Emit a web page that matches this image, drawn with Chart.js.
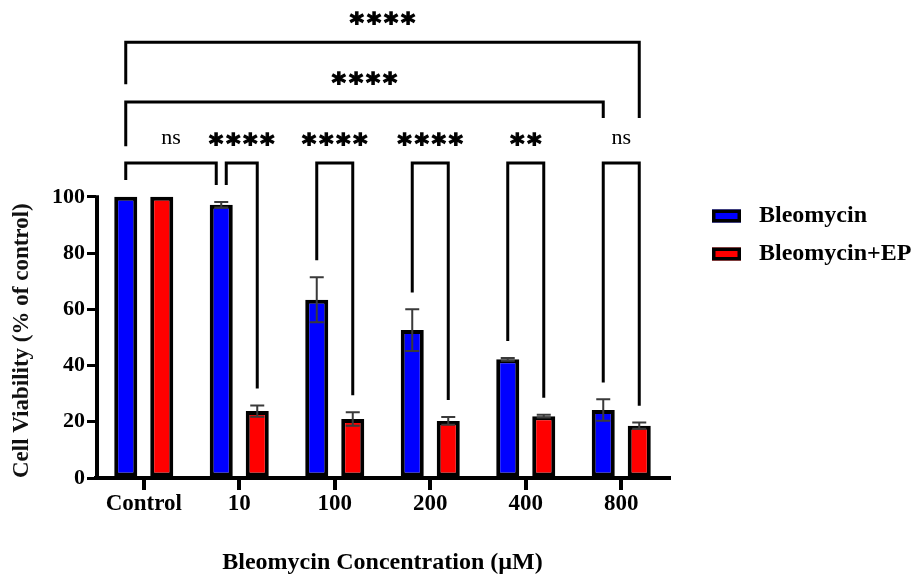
<!DOCTYPE html>
<html>
<head>
<meta charset="utf-8">
<script src="https://cdn.jsdelivr.net/npm/chart.js@4"></script>
<style>
  body { margin: 0; background: #fff; }
  #wrap { width: 914px; height: 577px; }
</style>
</head>
<body>
<div id="wrap"><canvas id="viabilityChart"></canvas></div>
<script>
// data
const categories = ['Control', '10', '100', '200', '400', '800'];
const seriesNames = ['Bleomycin', 'Bleomycin+EP'];
const bleomycin = [100, 97.2, 63.4, 52.6, 42.2, 24.2];
const bleomycinErr = [0, 1, 8, 7.4, 0.5, 3.8];
const bleomycinEP = [100, 23.8, 21, 20.3, 22, 18.6];
const bleomycinEPErr = [0, 2, 2.4, 1.4, 0.5, 1.1];
const yTicks = [0, 20, 40, 60, 80, 100];

// significance brackets: a / b = [category index, series index]
const comparisons = [
  { a: [0, 0], b: [1, 0], label: 'ns', level: 112, shift: [0, -5] },
  { a: [1, 0], b: [1, 1], label: '****', level: 112, shift: [5, 0] },
  { a: [2, 0], b: [2, 1], label: '****', level: 112 },
  { a: [3, 0], b: [3, 1], label: '****', level: 112 },
  { a: [4, 0], b: [4, 1], label: '**', level: 112 },
  { a: [5, 0], b: [5, 1], label: 'ns', level: 112 },
  { a: [0, 0], b: [5, 0], label: '****', level: 133.7, legs: [118, 128] },
  { a: [0, 0], b: [5, 1], label: '****', level: 155, legs: [140, 128] }
];

const errors = [bleomycinErr, bleomycinEPErr];
const values = [bleomycin, bleomycinEP];
const serif = '"Liberation Serif", "Times New Roman", serif';

const extras = {
  id: 'extras',
  afterDatasetsDraw(chart) {
    const ctx = chart.ctx;
    const y = chart.scales.y;
    const area = chart.chartArea;
    ctx.save();

    // y axis line, only 0..100
    ctx.strokeStyle = '#000';
    ctx.lineWidth = 4;
    ctx.beginPath();
    ctx.moveTo(area.left + 1, y.getPixelForValue(0) + 2);
    ctx.lineTo(area.left + 1, y.getPixelForValue(100) - 1.5);
    ctx.stroke();

    // error bars
    ctx.strokeStyle = '#3a3a3a';
    ctx.lineWidth = 2;
    for (let d = 0; d < 2; d++) {
      const meta = chart.getDatasetMeta(d);
      meta.data.forEach((bar, i) => {
        const e = errors[d][i];
        if (!e) return;
        const top = y.getPixelForValue(values[d][i] + e);
        const bot = y.getPixelForValue(values[d][i] - e);
        ctx.beginPath();
        ctx.moveTo(bar.x, top); ctx.lineTo(bar.x, bot);
        ctx.moveTo(bar.x - 7, top); ctx.lineTo(bar.x + 7, top);
        ctx.moveTo(bar.x - 7, bot); ctx.lineTo(bar.x + 7, bot);
        ctx.stroke();
      });
    }

    // brackets
    ctx.strokeStyle = '#000';
    ctx.lineWidth = 3;
    ctx.fillStyle = '#000';
    ctx.textAlign = 'center';
    comparisons.forEach(c => {
      const shift = c.shift || [0, 0];
      const xa = chart.getDatasetMeta(c.a[1]).data[c.a[0]].x + shift[0];
      const xb = chart.getDatasetMeta(c.b[1]).data[c.b[0]].x + shift[1];
      const legA = c.legs ? c.legs[0] : values[c.a[1]][c.a[0]] + errors[c.a[1]][c.a[0]] + 6;
      const legB = c.legs ? c.legs[1] : values[c.b[1]][c.b[0]] + errors[c.b[1]][c.b[0]] + 6;
      const yl = y.getPixelForValue(c.level);
      ctx.lineWidth = 3;
      ctx.beginPath();
      ctx.moveTo(xa, y.getPixelForValue(legA));
      ctx.lineTo(xa, yl);
      ctx.lineTo(xb, yl);
      ctx.lineTo(xb, y.getPixelForValue(legB));
      ctx.stroke();
      const ty = y.getPixelForValue(c.level + 8);
      const cx = (xa + xb) / 2;
      ctx.textBaseline = 'middle';
      if (c.label === 'ns') {
        ctx.font = '22px ' + serif;
        ctx.letterSpacing = '0px';
        ctx.fillText(c.label, cx, ty - 2.4);
      } else {
        ctx.font = 'bold 27px "DejaVu Sans", sans-serif';
        ctx.letterSpacing = '3px';
        ctx.lineWidth = 1.3;
        ctx.fillText(c.label, cx + 1.5, ty + 5.5);
        ctx.strokeText(c.label, cx + 1.5, ty + 5.5);
      }
    });
    ctx.letterSpacing = '0px';

    // legend
    const lx = area.right + 43;
    chart.data.datasets.forEach((ds, d) => {
      const cy = 216 + d * 38;
      ctx.fillStyle = ds.backgroundColor;
      ctx.fillRect(lx, cy - 6.5, 29, 13);
      ctx.strokeStyle = '#000';
      ctx.lineWidth = 3.5;
      ctx.strokeRect(lx + 1.75, cy - 4.75, 25.5, 9.5);
      ctx.fillStyle = '#000';
      ctx.font = 'bold 24px ' + serif;
      ctx.textAlign = 'left';
      ctx.textBaseline = 'middle';
      ctx.fillText(ds.label, lx + 47, cy);
    });
    ctx.restore();
  }
};

const ctx = document.getElementById('viabilityChart').getContext('2d');
const viabilityChart = new Chart(ctx, {
  type: 'bar',
  data: {
    labels: categories,
    datasets: [{
      label: seriesNames[0],
      data: bleomycin,
      backgroundColor: '#0000ff',
      borderColor: '#000',
      borderWidth: 4,
      borderSkipped: false
    }, {
      label: seriesNames[1],
      data: bleomycinEP,
      backgroundColor: '#ff0000',
      borderColor: '#000',
      borderWidth: 4,
      borderSkipped: false
    }]
  },
  options: {
    responsive: true,
    maintainAspectRatio: false,
    animation: false,
    categoryPercentage: 0.754,
    barPercentage: 0.64,
    layout: { padding: { top: 0, right: 245, bottom: 0, left: 0 } },
    plugins: { legend: { display: false }, tooltip: { enabled: false } },
    scales: {
      x: {
        afterFit: s => { s.height = 99; },
        grid: { drawOnChartArea: false, offset: false, tickLength: 12, lineWidth: 4, color: '#000' },
        border: { display: true, width: 4, color: '#000' },
        ticks: { color: '#000', padding: 0, font: { family: serif, size: 23, weight: 'bold' } },
        title: {
          display: true, text: 'Bleomycin Concentration (µM)', color: '#000',
          padding: { top: 0, bottom: 0 },
          font: { family: serif, size: 24, weight: 'bold' }
        }
      },
      y: {
        min: 0, max: 170,
        afterFit: s => { s.width = 96; s.paddingTop = 0; s.paddingBottom = 0; },
        afterBuildTicks: s => { s.ticks = yTicks.map(v => ({ value: v })); },
        grid: { drawOnChartArea: false, tickLength: 9, lineWidth: 3, color: '#000' },
        border: { display: false },
        ticks: { color: '#000', padding: 2, font: { family: serif, size: 22, weight: 'bold' } },
        title: {
          display: true, text: 'Cell Viability (% of control)', color: '#111',
          align: 'start', padding: { top: 8, bottom: 0 },
          font: { family: serif, size: 23, weight: 'bold' }
        }
      }
    }
  },
  plugins: [extras]
});
</script>
</body>
</html>
